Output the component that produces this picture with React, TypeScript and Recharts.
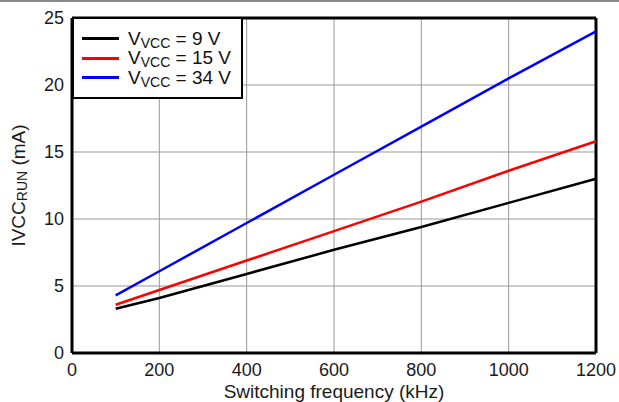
import React from "react";
import { LineChart, Line, XAxis, YAxis, CartesianGrid, ReferenceLine, Label } from "recharts";

const freqs = [100, 200, 400, 600, 800, 1000, 1200];
const vcc9 = [3.3, 4.1, 5.9, 7.7, 9.4, 11.2, 13.0];
const vcc15 = [3.6, 4.7, 6.9, 9.1, 11.3, 13.6, 15.8];
const vcc34 = [4.3, 6.1, 9.7, 13.3, 16.9, 20.5, 24.0];
const xTicks = [0, 200, 400, 600, 800, 1000, 1200];
const yTicks = [0, 5, 10, 15, 20, 25];
const seriesNames = ["9 V", "15 V", "34 V"];
const seriesColors = ["#000000", "#ff0000", "#0000ff"];

const data = freqs.map((f, i) => ({ f, a: vcc9[i], b: vcc15[i], c: vcc34[i] }));

const FONT = "'Liberation Sans', Arial, sans-serif";

const LegendBox = () => (
  <div
    style={{
      position: "absolute",
      left: 72,
      top: 17,
      border: "2.5px solid #000",
      background: "#fff",
      width: 171,
      height: 82,
      boxSizing: "border-box",
      padding: "10px 0 0 8px",
      fontFamily: FONT,
      fontSize: 19,
      color: "#111",
    }}
  >
    {seriesNames.map((n, i) => (
      <div key={n} style={{ display: "flex", alignItems: "center", height: 19.5 }}>
        <div style={{ width: 37, height: 3, background: seriesColors[i], marginRight: 9 }} />
        <span style={{ whiteSpace: "nowrap" }}>
          V<span style={{ fontSize: 14, position: "relative", top: 3 }}>VCC</span> = {n}
        </span>
      </div>
    ))}
  </div>
);

const YLabel = (props: any) => {
  const vb = props.viewBox || {};
  const cx = 18;
  const cy = vb.y + vb.height / 2;
  return (
    <text
      x={cx}
      y={cy}
      transform={`rotate(-90, ${cx}, ${cy})`}
      textAnchor="middle"
      dominantBaseline="central"
      fontFamily={FONT}
      fontSize={19}
      fill="#1a1a1a"
    >
      <tspan>IVCC</tspan>
      <tspan fontSize={14} dy={4}>RUN</tspan>
      <tspan dy={-4}> (mA)</tspan>
    </text>
  );
};

export default function App() {
  return (
    <div style={{ position: "absolute", left: 0, top: 0, width: 619, height: 402, background: "#fff" }}>
      <div style={{ position: "absolute", left: 0, top: 0, width: 619, height: 2, background: "#8a8a8a" }} />
      <LineChart width={619} height={402} data={data} margin={{ top: 18, right: 23, bottom: 19, left: 12 }}>
        <CartesianGrid stroke="#999" strokeWidth={1} />
        <XAxis
          dataKey="f"
          type="number"
          domain={[0, 1200]}
          ticks={xTicks}
          tickLine={false}
          tickSize={0}
          tickMargin={10}
          axisLine={{ stroke: "#000", strokeWidth: 3 }}
          tick={{ fontFamily: FONT, fontSize: 18, fill: "#1a1a1a" }}
          height={30}
        >
          <Label
            value="Switching frequency (kHz)"
            position="bottom"
            offset={2}
            style={{ fontFamily: FONT, fontSize: 19, fill: "#1a1a1a" }}
          />
        </XAxis>
        <YAxis
          type="number"
          domain={[0, 25]}
          ticks={yTicks}
          tickLine={false}
          tickSize={0}
          tickMargin={8}
          axisLine={{ stroke: "#000", strokeWidth: 3 }}
          tick={{ fontFamily: FONT, fontSize: 18, fill: "#1a1a1a" }}
          width={60}
        >
          <Label content={<YLabel />} />
        </YAxis>
        <ReferenceLine y={25} stroke="#000" strokeWidth={3} />
        <ReferenceLine x={1200} stroke="#000" strokeWidth={3} />
        <Line dataKey="a" name="9 V" stroke={seriesColors[0]} strokeWidth={2.5} dot={false} isAnimationActive={false} />
        <Line dataKey="b" name="15 V" stroke={seriesColors[1]} strokeWidth={2.5} dot={false} isAnimationActive={false} />
        <Line dataKey="c" name="34 V" stroke={seriesColors[2]} strokeWidth={2.5} dot={false} isAnimationActive={false} />
      </LineChart>
      <LegendBox />
    </div>
  );
}
